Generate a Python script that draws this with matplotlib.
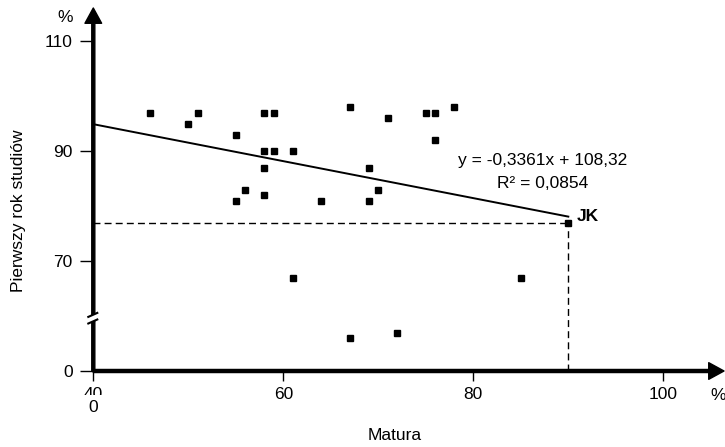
import matplotlib
matplotlib.use("Agg")
import matplotlib.pyplot as plt
from matplotlib.patches import Polygon
import numpy as np

plt.rcParams['font.family'] = ['Liberation Sans', 'DejaVu Sans']

# ---- data ----
matura = [46, 50, 51, 55, 55, 56, 58, 59, 58, 59, 58, 58, 61, 61, 64, 67, 67,
          69, 69, 70, 71, 72, 75, 76, 76, 78, 85, 90]
studia = [97, 95, 97, 93, 81, 83, 97, 97, 90, 90, 87, 82, 90, 67, 81, 98, 56,
          87, 81, 83, 96, 57, 97, 97, 92, 98, 67, 77]
jk_x, jk_y = 90, 77
slope, intercept = -0.3361, 108.32
fit_x = [40, 90]
x_ticks = [40, 60, 80, 100]
x_ticklabels = ['40', '60', '80', '100']
y_ticks = [50, 70, 90, 110]
y_ticklabels = ['0', '70', '90', '110']
eq_text = 'y = -0,3361x + 108,32'
r2_text = 'R² = 0,0854'
xlabel = 'Matura'
ylabel = 'Pierwszy rok studiów'

W, H = 725, 447
fig = plt.figure(figsize=(W / 100, H / 100), dpi=100)

def fx(px):
    return px / W

def fy(py):
    return 1 - py / H

# axes: x=40 at px 93.3, y=50 at px 371 ; 9.5 px / unit x, 5.5 px / unit y
ax_left, ax_bottom_px = 93.3, 371.0
xmin, xmax = 40, 106
ymin, ymax = 50, 115.45
ax = fig.add_axes([fx(ax_left), fy(ax_bottom_px),
                   (xmax - xmin) * 9.5 / W, (ymax - ymin) * 5.5 / H])
ax.set_xlim(xmin, xmax)
ax.set_ylim(ymin, ymax)
for s in ax.spines.values():
    s.set_visible(False)
ax.patch.set_alpha(0)

FS = 12.5
ax.set_xticks(x_ticks)
ax.set_xticklabels(x_ticklabels)
ax.set_yticks(y_ticks)
ax.set_yticklabels(y_ticklabels)
ax.tick_params(axis='x', direction='out', length=7.5, width=1, pad=4,
               labelsize=FS, color='black')
ax.tick_params(axis='y', direction='out', length=9.4, width=1, pad=5.5,
               labelsize=FS, color='black')

# axis arrows
arr = dict(width=2.2, headwidth=12, headlength=11, facecolor='black',
           edgecolor='black', shrink=0, clip_on=False)
ax.annotate('', xy=(40 + (724 - ax_left) / 9.5, 50), xytext=(40, 50),
            arrowprops=arr, annotation_clip=False, zorder=5)
ax.annotate('', xy=(40, 50 + (371 - 8) / 5.5), xytext=(40, 50),
            arrowprops=arr, annotation_clip=False, zorder=5)

# dashed guides to JK
ax.plot([40, jk_x], [jk_y, jk_y], color='black', lw=1, ls=(0, (5, 3)),
        clip_on=False, zorder=3)
ax.plot([jk_x, jk_x], [50, jk_y], color='black', lw=1, ls=(0, (5, 3)),
        clip_on=False, zorder=3)

# trend line
fx_arr = np.array(fit_x, dtype=float)
ax.plot(fx_arr, slope * fx_arr + intercept, color='black', lw=1.4, zorder=4)

# points
ax.plot(matura, studia, ls='none', marker='s', ms=5, color='black',
        zorder=6, clip_on=False)

# texts
ax.text(40 + (543 - ax_left) / 9.5, 90 - (160 - 150.7) / 5.5, eq_text,
        ha='center', va='center', fontsize=FS)
ax.text(40 + (543 - ax_left) / 9.5, 90 - (183 - 150.7) / 5.5, r2_text,
        ha='center', va='center', fontsize=FS)
ax.text(40 + (577 - ax_left) / 9.5, 90 - (216 - 150.7) / 5.5, 'JK',
        ha='left', va='center', fontsize=FS, fontweight='bold')

fig.text(fx(395), fy(436), xlabel, ha='center', va='center', fontsize=FS)
fig.text(fx(19), fy(211), ylabel, ha='center', va='center', fontsize=FS,
         rotation=90)
fig.text(fx(65), fy(17), '%', ha='center', va='center', fontsize=FS)
fig.text(fx(718), fy(395), '%', ha='center', va='center', fontsize=FS)

# cover lower part of the "40" label and write "0"
fig.add_artist(plt.Rectangle((fx(81), fy(424)), 24 / W, 29 / H,
                             transform=fig.transFigure, facecolor='white',
                             edgecolor='none', zorder=10))
fig.text(fx(93.3), fy(407.5), '0', ha='center', va='center', fontsize=FS,
         zorder=11)

# axis break on y axis
bx, by = ax_left, 318.0
def seg(x0, y0):
    # slanted stroke: rises 4 px over 9 px
    return [(fx(bx - 5), fy(by + y0 + 2.2)), (fx(bx + 4), fy(by + y0 - 1.8))]
up = seg(0, -3.3)
lo = seg(0, 3.3)
fig.add_artist(Polygon([up[0], up[1], lo[1], lo[0]], closed=True,
                       transform=fig.transFigure, facecolor='white',
                       edgecolor='none', zorder=10))
for s in (up, lo):
    fig.add_artist(plt.Line2D([s[0][0], s[1][0]], [s[0][1], s[1][1]],
                              transform=fig.transFigure, color='black',
                              lw=1.5, zorder=11))

fig.savefig('out.png', dpi=100)
